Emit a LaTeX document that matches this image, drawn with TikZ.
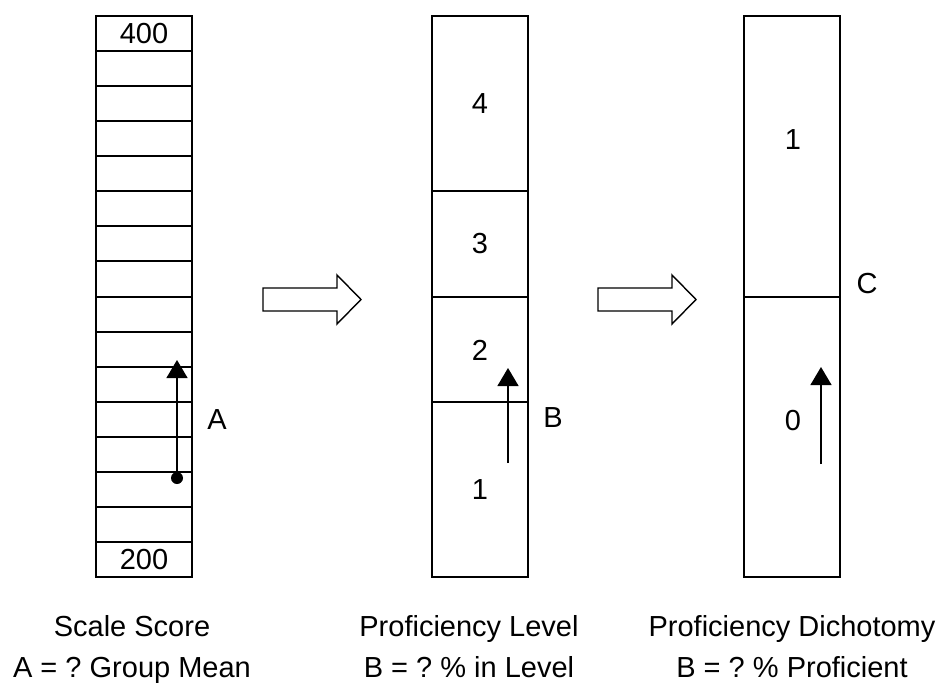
\documentclass[tikz,border=0pt]{standalone}
\usepackage{fontspec}
\setmainfont{Liberation Sans}
\usetikzlibrary{arrows.meta}
\frenchspacing
\begin{document}
\begin{tikzpicture}[x=1pt,y=-1pt,
  cell/.style={draw, line width=2pt, minimum width=96pt, inner sep=0pt},
  lbl/.style={font=\fontsize{29}{34}\selectfont, inner sep=0pt},
  captext/.style={font=\fontsize{29}{34}\selectfont, inner sep=0pt, anchor=base},
  pointer/.style={line width=1.3pt, -{Triangle[length=18pt,width=21pt]}},
  blockarrow/.style={draw, line width=1.4pt, line join=miter}]
\useasboundingbox (0,0) rectangle (943,683);

% row pitch and top edge shared by all three bars
\def\rtop{15.7}
\def\rh{35.1}

% scale score bar: sixteen equal cells
\foreach \i in {0,...,15}
  \node[cell, minimum height=\rh pt] (s\i) at (144,{\rtop+\rh/2+\i*\rh}) {};
\node[lbl] (t400) at (s0) {400};
\node[lbl] (t200) at (s15) {200};

% proficiency level bar
\node[cell, minimum height=5*\rh pt] (lv4) at (480,{\rtop+2.5*\rh}) {};
\node[cell, minimum height=3*\rh pt] (lv3) at (480,{\rtop+6.5*\rh}) {};
\node[cell, minimum height=3*\rh pt] (lv2) at (480,{\rtop+9.5*\rh}) {};
\node[cell, minimum height=5*\rh pt] (lv1) at (480,{\rtop+13.5*\rh}) {};
\node[lbl] (t4) at (lv4) {4};
\node[lbl] (t3) at (lv3) {3};
\node[lbl] (t2) at (480,350) {2};
\node[lbl] (t1) at (480,490) {1};

% dichotomy bar
\node[cell, minimum height=8*\rh pt] (d1) at (792,{\rtop+4*\rh}) {};
\node[cell, minimum height=8*\rh pt] (d0) at (792,{\rtop+12*\rh}) {};
\node[lbl] (td1) at (793,140) {1};
\node[lbl] (td0) at (793,421) {0};

% pointers
\coordinate (a0) at (177,478);
\coordinate (a1) at (177,360);
\fill (a0) circle (6pt);
\draw[pointer] (a0) -- (a1);
\node[lbl] (la) at (217,420) {A};

\coordinate (b0) at (508,463);
\coordinate (b1) at (508,368);
\draw[pointer] (b0) -- (b1);
\node[lbl] (lb) at (553,418) {B};

\coordinate (c0) at (821,464);
\coordinate (c1) at (821,367);
\draw[pointer] (c0) -- (c1);
\node[lbl] (lc) at (867,284) {C};

% hollow block arrows between the bars
\foreach \dx in {0,335}
  \draw[blockarrow, xshift=\dx pt]
    (263,288) -- (337,288) -- (337,275) -- (361,299.5)
    -- (337,324) -- (337,311) -- (263,311) -- cycle;

% captions
\node[captext] (cap1a) at (132,636) {Scale Score};
\node[captext] (cap1b) at (132,677) {A = ? Group Mean};
\node[captext] (cap2a) at (469,636) {Proficiency Level};
\node[captext] (cap2b) at (469,677) {B = ? \% in Level};
\node[captext] (cap3a) at (792,636) {Proficiency Dichotomy};
\node[captext] (cap3b) at (792,677) {B = ? \% Proficient};
\end{tikzpicture}
\end{document}
